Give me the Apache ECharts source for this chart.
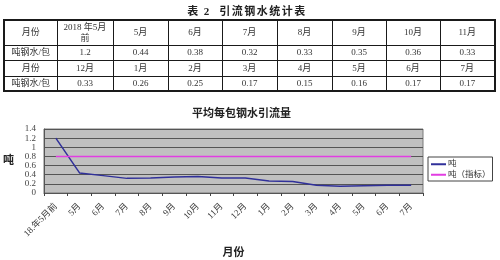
<!DOCTYPE html>
<html>
<head>
<meta charset="utf-8">
<script src="https://cdn.jsdelivr.net/npm/echarts@6/dist/echarts.min.js"></script>
<style>
  html, body { margin: 0; padding: 0; background: #fff; }
  #wrap { position: relative; width: 500px; height: 260px; overflow: hidden; }
  #chart { position: absolute; left: 0; top: 0; width: 500px; height: 260px; }
  #tblTitle {
    position: absolute; left: 0; top: 2px; width: 494px; text-align: center;
    font: bold 11px "Liberation Serif", "Noto Sans CJK SC", serif; color: #222;
    letter-spacing: 1.5px;
  }
  #tbl {
    position: absolute; left: 3px; top: 19px; border-collapse: collapse;
    table-layout: fixed; border: 2px solid #1a1a1a;
    font: 9px "Liberation Serif", "Noto Sans CJK SC", serif; color: #333;
  }
  #tbl td {
    border: 1.5px solid #1a1a1a; text-align: center; padding: 0; line-height: 11px;
    overflow: hidden;
  }
</style>
</head>
<body>
<div id="wrap">
  <div id="chart"></div>
  <div id="tblTitle">表 2&nbsp; 引流钢水统计表</div>
  <table id="tbl"></table>
</div>
<script>
// Table rows: two blocks of month headers and tonnage per ladle
const rowHeadMonth = '月份';
const rowHeadValue = '吨钢水/包';
const tableMonths1 = ['2018 年5月前', '5月', '6月', '7月', '8月', '9月', '10月', '11月'];
const tableValues1 = ['1.2', '0.44', '0.38', '0.32', '0.33', '0.35', '0.36', '0.33'];
const tableMonths2 = ['12月', '1月', '2月', '3月', '4月', '5月', '6月', '7月'];
const tableValues2 = ['0.33', '0.26', '0.25', '0.17', '0.15', '0.16', '0.17', '0.17'];

// Chart series
const categories = ['18.年5月前', '5月', '6月', '7月', '8月', '9月', '10月', '11月', '12月',
                    '1月', '2月', '3月', '4月', '5月', '6月', '7月'];
const tonsPerLadle = [1.2, 0.44, 0.38, 0.32, 0.33, 0.35, 0.36, 0.33, 0.33,
                      0.26, 0.25, 0.17, 0.15, 0.16, 0.17, 0.17];
const targetTons = [0.8, 0.8, 0.8, 0.8, 0.8, 0.8, 0.8, 0.8, 0.8,
                    0.8, 0.8, 0.8, 0.8, 0.8, 0.8, 0.8];

// Build the statistics table
const colWidths = [53, 56, 55, 54, 55, 55, 54, 54, 55];
const rowHeights = [25, 15, 16, 15];
const tbl = document.getElementById('tbl');
const colgroup = document.createElement('colgroup');
colWidths.forEach(w => {
  const c = document.createElement('col');
  c.style.width = w + 'px';
  colgroup.appendChild(c);
});
tbl.appendChild(colgroup);
[[rowHeadMonth, tableMonths1], [rowHeadValue, tableValues1],
 [rowHeadMonth, tableMonths2], [rowHeadValue, tableValues2]].forEach((row, i) => {
  const tr = document.createElement('tr');
  tr.style.height = rowHeights[i] + 'px';
  [row[0]].concat(row[1]).forEach((txt, j) => {
    const td = document.createElement('td');
    if (i === 0 && j === 1) {
      td.innerHTML = '2018 年5月<br>前';
    } else {
      td.textContent = txt;
    }
    tr.appendChild(td);
  });
  tbl.appendChild(tr);
});

// Line chart of average tapped steel per ladle
const serifFont = '"Liberation Serif", "Noto Sans CJK SC", serif';
const chart = echarts.init(document.getElementById('chart'), null, { renderer: 'canvas' });
chart.setOption({
  animation: false,
  title: {
    text: '平均每包钢水引流量',
    left: 192, top: 109, padding: 0,
    textStyle: { fontSize: 11, fontWeight: 'bold', color: '#222', fontFamily: serifFont }
  },
  legend: {
    orient: 'vertical',
    left: 428, top: 157,
    backgroundColor: '#fff',
    borderColor: '#444', borderWidth: 1,
    padding: [3, 2, 2, 3],
    itemGap: 2,
    itemWidth: 15, itemHeight: 2,
    icon: 'rect',
    textStyle: { fontSize: 8.5, color: '#333', fontFamily: serifFont, padding: [0, 0, 0, -3] },
    data: ['吨', '吨（指标）']
  },
  grid: {
    left: 42, top: 129, width: 381, height: 78,
    show: true, backgroundColor: '#c0c0c0', borderColor: '#7a7a7a', borderWidth: 1
  },
  xAxis: {
    type: 'category',
    data: categories,
    boundaryGap: true,
    name: '月份',
    nameLocation: 'middle',
    nameGap: 55,
    nameTextStyle: { fontSize: 11, fontWeight: 'bold', color: '#222', fontFamily: serifFont },
    axisLine: { lineStyle: { color: '#555', width: 1 } },
    axisTick: { show: true, length: 3, lineStyle: { color: '#444' } },
    axisLabel: {
      rotate: 45, interval: 0, fontSize: 9, color: '#3a3a3a', margin: 12,
      fontFamily: serifFont
    }
  },
  yAxis: {
    type: 'value',
    min: 0, max: 1.4, interval: 0.2,
    name: '吨',
    nameLocation: 'middle',
    nameRotate: 0,
    nameGap: 30,
    nameTextStyle: { fontSize: 11, fontWeight: 'bold', color: '#222', fontFamily: serifFont },
    axisLine: { show: true, lineStyle: { color: '#555' } },
    axisTick: { show: false },
    splitLine: { lineStyle: { color: '#555', width: 1 } },
    axisLabel: {
      fontSize: 9, color: '#444', margin: 8, fontFamily: serifFont,
      formatter: v => String(Math.round(v * 10) / 10)
    }
  },
  series: [
    {
      name: '吨', type: 'line', data: tonsPerLadle,
      showSymbol: false, symbol: 'none',
      lineStyle: { color: '#30309a', width: 1.5 },
      itemStyle: { color: '#30309a' }
    },
    {
      name: '吨（指标）', type: 'line', data: targetTons,
      showSymbol: false, symbol: 'none',
      lineStyle: { color: '#e23de2', width: 1.5 },
      itemStyle: { color: '#e23de2' }
    }
  ]
});
</script>
</body>
</html>
